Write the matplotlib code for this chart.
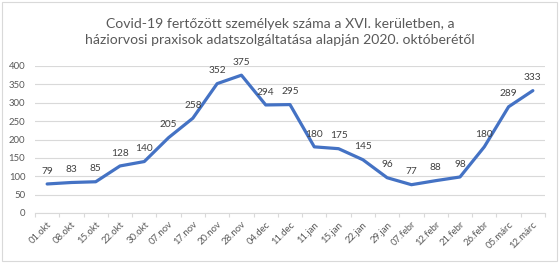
import matplotlib
matplotlib.use("Agg")
import matplotlib.pyplot as plt
from matplotlib.patches import Rectangle

plt.rcParams['font.family'] = ['Lato', 'DejaVu Sans']

categories = ["01.okt", "08.okt", "15.okt", "22.okt", "30.okt", "07.nov", "17.nov",
              "20.nov", "28.nov", "04.dec", "11.dec", "11.jan", "15.jan", "22.jan",
              "29.jan", "07.febr", "12.febr", "21.febr", "26.febr", "05.márc", "12.márc"]
values = [79, 83, 85, 128, 140, 205, 258, 352, 375, 294, 295, 180, 175, 145,
          96, 77, 88, 98, 180, 289, 333]
yticks = [0, 50, 100, 150, 200, 250, 300, 350, 400]
title = "Covid-19 fertőzött személyek száma a XVI. kerületben, a\nháziorvosi praxisok adatszolgáltatása alapján 2020. októberétől"

W, H = 560, 265
fig = plt.figure(figsize=(W / 100, H / 100), dpi=100)
fig.patch.set_facecolor("white")
fig.patches.append(Rectangle((2 / W, 4 / H), (W - 5) / W, (H - 6) / H, transform=fig.transFigure,
                             fill=False, edgecolor="#D9D9D9", linewidth=0.8))

left, right = 35, 545
y0, y400 = 213, 66
ax = fig.add_axes([left / W, (H - y0) / H, (right - left) / W, (y0 - y400) / H])
n = len(categories)
x = list(range(n))
ax.plot(x, values, color="#4472C4", linewidth=2.3, solid_joinstyle="round", solid_capstyle="round", zorder=3)
for xi, v in zip(x, values):
    ax.annotate(str(v), (xi, v), xytext=(0, 6), textcoords="offset points",
                ha="center", va="bottom", fontsize=7.3, color="#404040", zorder=4)

ax.set_xlim(-0.5, n - 0.5)
ax.set_ylim(0, 400)
ax.set_yticks(yticks)
ax.set_yticklabels([str(t) for t in yticks])
ax.yaxis.grid(True, color="#D9D9D9", linewidth=0.8)
ax.set_axisbelow(True)
ax.set_xticks(x)
ax.set_xticklabels(categories, rotation=45, ha="right", rotation_mode="anchor")
ax.set_xticks([i - 0.5 for i in range(n + 1)], minor=True)
ax.tick_params(axis="x", which="major", length=0, labelsize=6.9, labelcolor="#595959", pad=5)
ax.tick_params(axis="x", which="minor", length=3, color="#D9D9D9", width=0.8)
ax.tick_params(axis="y", length=0, labelsize=6.9, labelcolor="#595959", pad=7)
for s in ["top", "right", "left"]:
    ax.spines[s].set_visible(False)
ax.spines["bottom"].set_color("#D9D9D9")
ax.spines["bottom"].set_linewidth(0.8)

fig.text(0.5, 1 - 32 / H, title, ha="center", va="center", fontsize=10.1, color="#595959", linespacing=1.4)

fig.savefig("out.png", dpi=100, facecolor="white")
